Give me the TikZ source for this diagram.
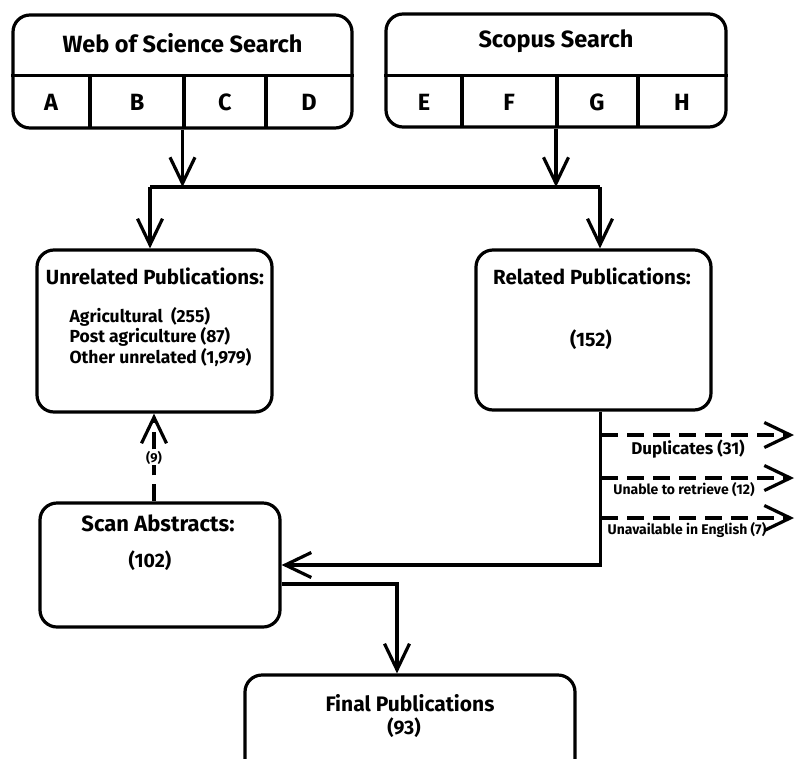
\documentclass[tikz,border=0pt]{standalone}
\usepackage{fontspec}
\setmainfont{Fira Sans}
\usepackage{tikz}
\usetikzlibrary{arrows.meta,positioning}
\tikzstyle{arrow} = [-{Straight Barb[length=26pt,width=25pt]}]
\tikzstyle{dasharrow} = [arrow, dash pattern=on 17pt off 9pt]
\tikzstyle{box} = [draw, rounded corners=17pt, inner sep=0pt]
\tikzstyle{big} = [font=\fontsize{23.5}{26}\selectfont\bfseries]
\tikzstyle{mid} = [font=\fontsize{20.5}{24}\selectfont\bfseries]
\tikzstyle{num} = [font=\fontsize{19.5}{24}\selectfont\bfseries]
\tikzstyle{small} = [font=\fontsize{17.5}{20.5}\selectfont\bfseries]
\tikzstyle{tiny} = [font=\fontsize{14}{17}\selectfont\bfseries]

\begin{document}
\begin{tikzpicture}[x=1pt, y=-1pt, line width=3.2pt]
		\clip (0,0) rectangle (795,758);
		\fill[white] (0,0) rectangle (795,758);
		
		% searches
		\node (wos) [box, minimum width=339pt, minimum height=113pt] at (182.5,71.5) {};
		\node (wostitle) [big] at ([yshift=-30pt]wos.north) {Web of Science Search};
		\draw ([yshift=-62pt]wos.north west) -- ([yshift=-62pt]wos.north east);
		\foreach \xx in {90,184,266}
			\draw (\xx,77) -- (\xx,128);
		\node (wosA) [big] at (51,102) {A};
		\node (wosB) [big] at (137,102) {B};
		\node (wosC) [big] at (225,102) {C};
		\node (wosD) [big] at (309,102) {D};
		
		\node (scopus) [box, minimum width=340pt, minimum height=113pt] at (556,70.5) {};
		\node (scopustitle) [big] at ([yshift=-29pt]scopus.north) {Scopus Search};
		\draw ([yshift=-63pt]scopus.north west) -- ([yshift=-63pt]scopus.north east);
		\foreach \xx in {462,557,638}
			\draw (\xx,77) -- (\xx,127);
		\node (scE) [big] at (424,102) {E};
		\node (scF) [big] at (509,102) {F};
		\node (scG) [big] at (597,102) {G};
		\node (scH) [big] at (682,102) {H};
		
		\coordinate (busL) at (150,187);
		\coordinate (busR) at (600,187);
		
		% publications
		\node (unrel) [box, minimum width=235pt, minimum height=162pt] at (154.5,331) {};
		\node (unreltitle) [mid] at (155,276) {Unrelated Publications:};
		\node (unrellist) [small, align=left, anchor=west, inner sep=0pt] at (68,337)
			{Agricultural\ \ (255)\\Post agriculture\ (87)\\Other unrelated (1,979)};
		
		\node (rel) [box, minimum width=235pt, minimum height=160pt] at (593.5,330) {};
		\node (reltitle) [mid] at (592,276) {Related Publications:};
		\node (relnum) [num] at (591,340) {(152)};
		
		\node (scan) [box, minimum width=240pt, minimum height=124pt] at (160,565) {};
		\node (scantitle) [mid, font=\fontsize{22}{24}\selectfont\bfseries] at (158,523) {Scan Abstracts:};
		\node (scannum) [num] at (150,561) {(102)};
		
		\node (final) [box, minimum width=330pt, minimum height=130pt] at (410,740) {};
		\node (finaltitle) [mid, font=\fontsize{21}{24}\selectfont\bfseries] at (410,703) {Final Publications};
		\node (finalnum) [num] at (404,728) {(93)};
		
		\draw [arrow] (wos.south) -- (wos.south |- busL);
		\draw [arrow] (scopus.south) -- (scopus.south |- busR);
		\draw (busL) -- (busR);
		\draw [arrow] (busL) -- (busL |- unrel.north);
		\draw [arrow] (busR) -- (busR |- rel.north);
		
		\draw [arrow] ([xshift=7pt]rel.south) |- (scan.east);
		\draw [arrow] ([yshift=-19pt]scan.east) -| ([xshift=-13pt]final.north);
		\draw [dasharrow] ([xshift=-6pt]scan.north) -- ([xshift=-6pt]scan.north |- unrel.south)
			node[midway, fill=white, inner sep=1pt, font=\fontsize{13}{14}\selectfont\bfseries] {(9)};
		
		% removed
		\coordinate (dup) at (601,435);
		\coordinate (ret) at (601,478);
		\coordinate (eng) at (601,518);
		\draw [dasharrow] (dup) -- (794,435);
		\draw [dasharrow] (ret) -- (794,478);
		\draw [dasharrow] (eng) -- (794,518);
		\node (duplab) [font=\fontsize{17}{19}\selectfont\bfseries] at (688,449) {Duplicates (31)};
		\node (retlab) [tiny] at (684,490) {Unable to retrieve (12)};
		\node (englab) [tiny] at (687,530) {Unavailable in English (7)};
	\end{tikzpicture}
\end{document}
